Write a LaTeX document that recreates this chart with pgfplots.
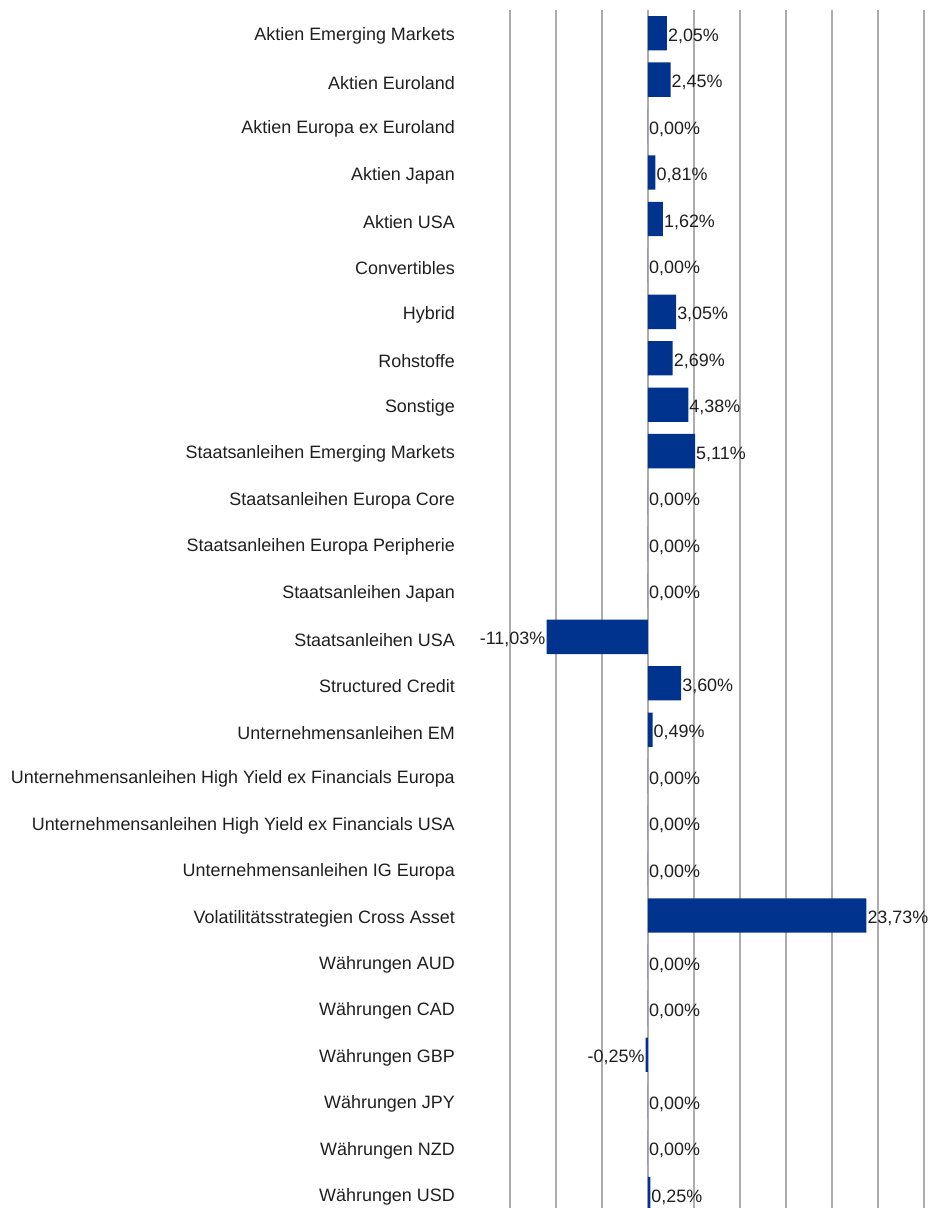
\documentclass[border=0pt]{standalone}
\usepackage{fontspec}
\setmainfont{Liberation Sans}
\usepackage{pgfplots}
\pgfplotsset{compat=1.18}
\definecolor{barblue}{RGB}{0,51,141}
\definecolor{gridgray}{RGB}{172,172,172}
\begin{document}
\begin{tikzpicture}
\useasboundingbox (-510bp,0bp) rectangle (437bp,1208bp);
\begin{axis}[
  at={(0bp,0bp)}, anchor=south west,
  scale only axis, width=414bp, height=1198bp,
  xmin=-15, xmax=30,
  ymin=-0.5, ymax=25.3,
  y dir=reverse,
  xbar, bar width=0.74, bar shift=0pt,
  axis line style={draw=none},
  xtick={-15,-10,...,30}, xticklabels={},
  xmajorgrids, major grid style={gridgray, line width=1.4bp},
  ytick={0,...,25},
  yticklabels={Aktien Emerging Markets,Aktien Euroland,Aktien Europa ex Euroland,Aktien Japan,Aktien USA,Convertibles,Hybrid,Rohstoffe,Sonstige,Staatsanleihen Emerging Markets,Staatsanleihen Europa Core,Staatsanleihen Europa Peripherie,Staatsanleihen Japan,Staatsanleihen USA,Structured Credit,Unternehmensanleihen EM,Unternehmensanleihen High Yield ex Financials Europa,Unternehmensanleihen High Yield ex Financials USA,Unternehmensanleihen IG Europa,Volatilitätsstrategien Cross Asset,Währungen AUD,Währungen CAD,Währungen GBP,Währungen JPY,Währungen NZD,Währungen USD},
  major tick length=0pt,
  yticklabel style={font=\fontsize{18}{20}\selectfont, anchor=east, inner sep=0pt, xshift=-55bp, yshift=-3bp, text=black!88},
  point meta=x,
  nodes near coords={\pgfmathprintnumber[fixed,fixed zerofill,precision=2,use comma,assume math mode=true]{\pgfplotspointmeta}\%},
  nodes near coords style={font=\fontsize{18}{20}\selectfont, inner sep=1bp, yshift=-3bp, text=black!88},
  clip=false,
]
\addplot[fill=barblue, draw=none, nodes near coords style={anchor=west}] coordinates {
(2.05,0) (2.45,1) (0,2) (0.81,3) (1.62,4) (0,5) (3.05,6) (2.69,7) (4.38,8) (5.11,9)
(0,10) (0,11) (0,12) (3.60,14) (0.49,15) (0,16) (0,17) (0,18) (23.73,19)
(0,20) (0,21) (0,23) (0,24) (0.25,25)
};
\addplot[fill=barblue, draw=none, nodes near coords style={anchor=east}] coordinates {
(-11.03,13) (-0.25,22)
};
\end{axis}
\end{tikzpicture}
\end{document}
